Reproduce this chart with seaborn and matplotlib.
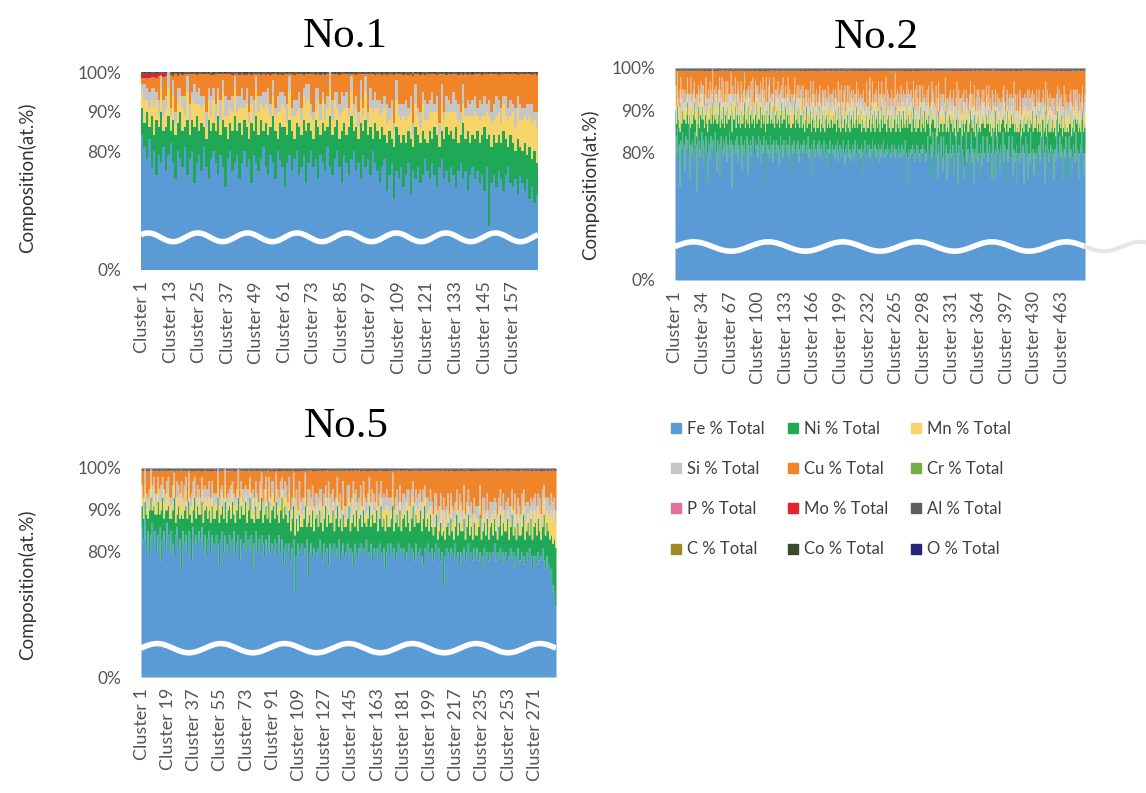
import numpy as np
import pandas as pd
import matplotlib
matplotlib.use("Agg")
import matplotlib.pyplot as plt
from matplotlib.lines import Line2D
import seaborn as sns

# ---------------- data (at.% per cluster) ----------------
ELEMENTS = ["Fe", "Ni", "Mn", "Si", "Cu", "Cr", "P", "Mo", "Al", "C", "Co", "O"]
COLORS = ["#5B9BD5", "#1FA855", "#F7D46A", "#C6C6C6", "#F08428", "#72AD4A",
          "#E2709C", "#E0262B", "#5E5E5E", "#9E8A22", "#3B4A2C", "#25267A"]
Y_TICKS = [0, 80, 90, 100]
Y_TICK_LABELS = ["0%", "80%", "90%", "100%"]
TITLES = ["No.1", "No.2", "No.5"]
TICK_STEPS = [12, 33, 18]

# ---- No.1 ----
FE_1 = """
84 81 78 83 76 80 74 79 77 81
75 79 82 77 73 80 78 76 81 74
78 80 72 77 79 75 81 76 73 78
80 77 74 79 76 71 78 80 75 77
79 73 77 80 76 78 72 79 77 75
78 81 76 74 79 77 73 80 78 76
71 77 79 75 78 80 74 76 79 72
77 80 76 78 73 79 77 75 81 76
74 78 80 76 72 79 77 74 78 80
75 77 73 79 76 78 74 80 77 75
72 76 78 70 74 77 68 75 73 76
71 74 77 69 75 73 76 72 74 78
75 73 77 74 71 76 78 73 75 72
76 74 71 75 77 73 75 70 74 76
73 75 72 74 70 76 61 72 74 71
75 73 70 74 76 72 71 73 69 74
72 70 73 68 71 67 69
"""
NI_1 = """
7 6 12 3 13 4 14 7 13 4
11 10 3 11 11 7 12 9 5 14
6 8 14 12 6 12 5 7 15 7
7 8 15 5 12 15 5 7 10 12
6 14 7 8 10 5 15 6 12 9
10 4 11 10 7 12 12 3 9 10
15 7 9 10 5 7 12 8 9 13
10 5 7 10 13 5 10 10 5 13
10 8 8 7 13 8 7 12 11 5
11 6 14 6 12 6 12 3 10 10
11 10 6 12 11 6 13 11 11 6
13 8 8 14 6 13 8 10 11 5
7 12 6 12 13 5 7 10 11 12
9 9 15 7 7 14 8 15 8 8
10 10 10 10 16 7 23 9 10 11
9 9 15 9 5 12 11 7 14 7
8 12 6 13 7 13 8
"""
MN_1 = ("4635475364 5746354637 4563746354 6354736457 5473645376 4657354736 "
        "5374635467 6453746357 4736547364 5364735746 6475364756 5647365475 "
        "6574637546 5746356475 7465375647 6576758687 8798989")
SI_1 = ("2434352434 3524342354 4253432435 3425354243 4352432534 2435342453 "
        "3542434325 4325342435 5243534243 3452435342 4235342534 3524352435 "
        "4352435243 2534352434 4253524345 3425342534 3243524")
MO_1 = ("9989798767 5432121101 0101001010 1001010010 0100101001 0010100101 "
        "0100100101 0010101001 0101001010 1001010010 0100101001 0010100101 "
        "0100100101 0010101001 0101001010 1001010010 0100101")
AL_1 = ("4353534354 3545354543 5354543535 4353534354 3545354543 5354543535 "
        "4353534354 3545354543 5354543535 4353534354 3545354543 5354543535 "
        "4353534354 3545354543 5354543535 4353534354 4353534")
CO_1 = ("1212112121 2112121211 1212112121 2112121211 1212112121 2112121211 "
        "1212112121 2112121211 1212112121 2112121211 1212112121 2112121211 "
        "1212112121 2112121211 1212112121 2112121211 1212112")
CR_1 = {14: 0.3, 52: 0.2, 88: 0.3, 131: 0.2}
P_1 = {3: 0.5, 6: 0.4, 9: 0.3, 21: 0.2, 77: 0.2}
C_1 = {30: 0.2, 115: 0.3}
O_1 = {45: 0.2, 140: 0.2}

# ---- No.2 ----
FE_2 = """
84 80 86 78 82 72 83 81 85 79
82 76 84 81 83 79 86 74 82 80
83 81 78 85 82 71 84 80 83 79
81 85 79 83 77 82 84 80 73 83
82 79 84 81 83 78 82 85 80 76
83 80 82 74 84 81 79 83 82 80
84 78 82 81 85 79 83 72 82 80
81 83 80 84 78 82 81 79 84 76
82 80 83 79 81 84 75 82 80 83
79 82 84 80 77 83 81 82 79 84
81 83 78 82 80 84 81 73 83 80
82 79 81 84 80 82 78 83 81 79
83 80 82 77 81 84 80 82 79 83
81 78 83 80 82 79 84 81 74 82
80 83 81 79 82 80 83 78 81 82
79 82 80 83 81 78 82 80 84 79
81 80 82 75 81 83 79 81 80 82
80 83 79 81 82 78 81 83 80 79
82 79 81 80 83 81 76 82 80 81
79 82 80 83 78 81 82 79 81 80
83 80 77 81 82 80 83 79 81 78
80 82 81 79 83 80 78 82 81 80
81 79 82 80 74 81 83 80 79 82
80 82 79 81 80 83 78 81 82 79
81 80 82 78 81 79 82 80 83 80
79 81 80 82 77 81 80 79 82 81
80 82 79 81 80 78 82 81 79 80
82 79 81 80 83 80 79 73 81 80
79 81 80 82 79 81 78 80 82 79
81 80 78 81 80 82 79 81 80 78
80 84 81 75 80 82 79 85 81 74
79 85 80 74 82 78 80 84 79 76
84 78 80 82 74 80 76 81 85 79
80 82 75 80 78 85 80 73 82 80
78 84 81 79 74 77 81 85 78 81
80 75 82 85 78 81 73 80 81 79
85 78 80 74 82 80 77 84 79 80
79 81 84 78 80 82 75 80 74 85
80 74 81 80 84 81 80 76 82 78
81 85 78 82 73 80 81 78 84 79
79 82 84 75 81 78 80 82 73 80
80 78 85 80 79 82 73 80 84 79
82 74 80 78 85 80 79 81 75 80
79 81 75 80 82 78 84 80 79 85
80 73 82 79 84 81 78 80 82 75
81 80 74 81 78 85 82 79 80 84
79 82 80 74 81 79 84 82 73 80
84 79 81 75 79 82 80 78 85 79
81 80 74 80 82 85 81 80 75 80
"""
NI_2 = """
6 7 5 10 4 13 9 6 5 9
6 12 3 8 9 8 3 12 8 7
4 8 14 3 6 13 3 11 3 10
9 3 12 5 9 7 8 7 12 5
6 12 3 8 9 9 7 3 10 11
4 9 10 12 4 9 8 8 4 9
6 9 9 7 3 10 9 13 8 8
7 8 6 5 14 5 8 7 6 11
5 9 9 7 7 6 12 9 6 6
11 5 7 8 9 6 11 5 11 4
7 8 8 7 12 3 8 12 7 7
5 10 11 3 8 8 9 8 5 10
7 7 9 11 5 5 12 5 11 5
7 13 3 9 10 8 5 5 12 5
7 6 11 7 6 10 4 13 5 7
10 4 10 4 4 10 9 6 5 8
6 10 3 13 10 3 9 4 9 4
6 5 12 4 5 11 5 7 5 9
7 7 9 7 3 7 12 4 9 6
8 8 5 5 13 5 6 6 8 6
3 8 14 4 5 9 3 11 4 10
9 4 9 8 3 8 13 4 8 7
6 11 3 8 12 5 5 5 10 4
6 6 12 4 7 6 8 9 3 9
8 6 8 9 4 9 9 6 6 7
8 9 5 6 12 5 8 6 7 5
6 6 12 4 7 11 4 9 6 8
7 7 9 7 3 8 12 13 8 7
8 9 5 6 12 5 10 5 7 7
5 8 13 4 7 7 7 9 5 10
8 3 8 11 4 5 11 3 7 12
7 4 4 12 8 7 7 3 9 9
3 9 10 3 12 8 9 8 3 8
8 3 13 6 6 3 10 12 6 6
8 4 3 8 14 8 6 3 10 4
5 12 8 3 8 7 12 9 3 8
3 7 9 12 3 7 12 3 9 6
7 8 3 9 10 3 12 4 12 3
5 12 9 4 3 7 5 12 3 9
7 3 11 4 12 7 9 7 4 7
7 7 3 12 9 7 7 3 13 5
5 9 3 4 7 6 12 9 3 8
6 11 9 8 3 7 11 4 12 6
7 8 10 7 8 7 3 4 9 3
5 13 8 5 3 7 7 9 3 11
7 5 12 5 6 3 8 6 8 3
7 7 4 12 9 6 3 3 13 5
3 8 9 9 7 6 5 11 3 8
7 5 13 6 3 3 9 5 12 6
"""
MN_2 = ("3243263423 2432433542 3423264324 4234324253 3342432344 2435342423 "
        "3243423624 4323242334 2434235342 3242342434 4323432542 2342324323 "
        "3423432342 2332423452 3243234234 4232432323 2344323432 3234234324 "
        "2423423432 3342324234 2432342323 4323243432 3242532343 2343243234 "
        "3234324323 2423232432 3242423234 2324232524 3232423243 2423234232 "
        "3242323423 2323423234 3242324232 2432323243 3223432324 2342232423 "
        "3224323242 2432232353 3223423232 2342232324 3223423242 2432324232 "
        "3224232342 2342232423 3232423224 2423232342 3242223423 2324232243 "
        "3232423224")
SI_2 = ("3242343234 2343242343 4232343242 3424232434 2343424323 "
        "3234243242 4323234342 2432342343 3243423234 4232342432 "
        "2343234243 3424323423 2342432343 3243243234 4323432342 "
        "3234242343 2432343234 3423234243 2343423432 3242343242 "
        "4323234343 2434323234 3243432342 3432343243 2343242434 "
        "3434323433 4343343234 3433434343 4343234334 3434343243 "
        "4333434343 3434334334 4343433343 3343434334 4334343433 "
        "3434334343 4343343334 3343434343 4334334343 3434343334 "
        "4343334343 3433434334 4343343433 3334343434 4343433343 "
        "3434334334 4333434343 3434343433 4343343334")
MO_2 = ("1010110101 0110101011 1011010110 1010110101 0110101011 1011010110 "
        "1010110101 0110101011 1011010110 1010110101 0110101011 1011010110 "
        "1010110101 0110101011 1011010110 1010110101 0110101011 1011010110 "
        "1010110101 0110101011 1011010110 1010110101 0110101011 1011010110 "
        "1010110101 0110101011 1011010110 1010110101 0110101011 1011010110 "
        "1010110101 0110101011 1011010110 1010110101 0110101011 1011010110 "
        "1010110101 0110101011 1011010110 1010110101 0110101011 1011010110 "
        "1010110101 0110101011 1011010110 1010110101 0110101011 1011010110 "
        "1010110101")
AL_2 = ("4534545354 5453454545 3545453454 4534545354 5453454545 3545453454 "
        "4534545354 5453454545 3545453454 4534545354 5453454545 3545453454 "
        "4534545354 5453454545 3545453454 4534545354 5453454545 3545453454 "
        "4534545354 5453454545 3545453454 4534545354 5453454545 3545453454 "
        "4534545354 5453454545 3545453454 4534545354 5453454545 3545453454 "
        "4534545354 5453454545 3545453454 4534545354 5453454545 3545453454 "
        "4534545354 5453454545 3545453454 4534545354 5453454545 3545453454 "
        "4534545354 5453454545 3545453454 4534545354 5453454545 3545453454 "
        "4534545354")
CO_2 = ("1212112121 2112121211 1212112121 2112121211 1212112121 2112121211 "
        "1212112121 2112121211 1212112121 2112121211 1212112121 2112121211 "
        "1212112121 2112121211 1212112121 2112121211 1212112121 2112121211 "
        "1212112121 2112121211 1212112121 2112121211 1212112121 2112121211 "
        "1212112121 2112121211 1212112121 2112121211 1212112121 2112121211 "
        "1212112121 2112121211 1212112121 2112121211 1212112121 2112121211 "
        "1212112121 2112121211 1212112121 2112121211 1212112121 2112121211 "
        "1212112121 2112121211 1212112121 2112121211 1212112121 2112121211 "
        "1212112121")
CR_2 = {40: 0.2, 122: 0.2, 260: 0.3, 401: 0.2}
P_2 = {17: 0.2, 95: 0.2, 310: 0.2}
C_2 = {70: 0.2, 205: 0.2, 380: 0.2, 455: 0.2}
O_2 = {150: 0.2, 333: 0.2, 470: 0.2}

# ---- No.5 ----
FE_5 = """
86 83 88 81 85 79 84 87 82 85
80 84 86 78 83 85 81 87 84 80
85 82 79 84 86 81 83 76 85 82
84 80 85 83 78 86 82 84 81 85
83 86 81 84 79 83 85 80 84 82
81 84 82 77 83 85 80 84 82 79
84 81 83 85 80 82 84 78 83 81
82 85 80 83 81 84 76 82 85 80
83 80 84 82 79 83 81 84 80 82
81 83 79 82 84 80 83 77 81 82
80 82 78 81 83 70 79 82 80 81
82 79 81 83 74 80 82 79 81 80
79 81 83 80 78 82 80 81 77 82
81 80 82 79 81 83 78 80 82 79
80 82 79 81 80 77 82 80 79 81
82 79 81 80 83 79 80 82 78 81
80 81 78 82 80 79 81 76 80 82
79 82 80 81 78 80 82 79 81 80
81 78 80 82 79 81 80 78 82 79
80 81 79 77 81 80 82 79 80 81
78 80 82 79 81 78 80 72 79 81
80 79 81 80 78 82 79 80 77 80
79 81 78 80 82 79 80 78 81 79
81 78 80 79 76 81 79 80 78 80
79 80 82 78 80 79 81 77 80 79
80 78 79 81 79 80 76 79 81 78
78 80 79 77 80 78 81 79 76 79
79 77 80 78 79 81 78 76 79 77
74 76 72 70 67
"""
NI_5 = """
5 5 4 8 3 11 9 3 9 4
9 8 3 12 10 3 9 3 7 8
3 8 14 3 3 10 5 13 3 8
7 8 7 6 9 4 11 4 10 4
6 6 6 6 12 5 5 7 7 6
7 6 11 10 6 6 8 8 5 11
7 7 9 4 7 8 9 10 8 8
7 7 7 7 12 4 12 5 6 8
5 10 9 5 10 8 7 8 7 8
10 5 13 7 3 10 10 11 10 7
7 8 7 7 8 14 9 3 9 5
4 9 10 3 13 9 4 11 4 8
10 5 7 7 7 6 11 5 12 5
6 10 3 9 10 3 10 5 7 7
6 6 12 4 7 12 4 10 6 7
7 7 9 7 3 9 11 4 11 6
7 9 7 6 11 7 7 9 9 4
7 6 11 4 9 9 4 11 4 8
8 8 10 5 6 7 11 8 7 8
7 9 6 11 10 6 6 6 9 5
6 6 7 4 4 9 4 13 4 5
7 5 7 5 5 4 10 4 10 5
6 7 5 6 7 5 6 5 6 5
3 8 9 4 9 6 5 8 5 6
8 4 6 7 3 7 8 7 7 6
5 10 4 5 10 4 10 4 6 6
6 6 10 6 5 9 3 9 7 7
8 7 8 7 4 5 11 8 8 8
9 8 10 13 14
"""
MN_5 = ("3243234243 2432342432 3243424532 4232432324 2343243423 3244232432 "
        "2432423243 3242325324 2423242343 3242432524 2432463243 3242524232 "
        "2324232352 3232423242 2423254232 3242324233 2323242524 3242323242 "
        "2324242323 3234232423 2423242532 3232423243 2423242324 3232523242 "
        "2423242432 3242325324 2434323254 3434354534 56676")
SI_5 = ("2342323432 3234232343 2423432324 3242343232 2343234243 3232423432 "
        "2423234323 3243242342 2342432324 3234243243 3423434343 4343343434 "
        "3434433434 4343343343 3434434343 4334343434 3443434343 4343343434 "
        "3434434343 4343343343 3434434343 4334343434 3443434343 4343343434 "
        "3434434343 4343343343 3434434343 4334343434 34433")
MO_5 = ("1010110101 0110101011 1011010110 1010110101 0110101011 1011010110 "
        "1010110101 0110101011 1011010110 1010110101 0110101011 1011010110 "
        "1010110101 0110101011 1011010110 1010110101 0110101011 1011010110 "
        "1010110101 0110101011 1011010110 1010110101 0110101011 1011010110 "
        "1010110101 0110101011 1011010110 1010110101 01101")
AL_5 = ("4534545354 5453454545 3545453454 4534545354 5453454545 3545453454 "
        "4534545354 5453454545 3545453454 4534545354 5453454545 3545453454 "
        "4534545354 5453454545 3545453454 4534545354 5453454545 3545453454 "
        "4534545354 5453454545 3545453454 4534545354 5453454545 3545453454 "
        "4534545354 5453454545 3545453454 4534545354 45345")
CO_5 = ("1212112121 2112121211 1212112121 2112121211 1212112121 2112121211 "
        "1212112121 2112121211 1212112121 2112121211 1212112121 2112121211 "
        "1212112121 2112121211 1212112121 2112121211 1212112121 2112121211 "
        "1212112121 2112121211 1212112121 2112121211 1212112121 2112121211 "
        "1212112121 2112121211 1212112121 2112121211 12121")
CR_5 = {33: 0.2, 150: 0.2, 240: 0.2}
P_5 = {8: 0.3, 61: 0.2, 199: 0.2}
C_5 = {90: 0.2, 222: 0.2}
O_5 = {120: 0.2, 268: 0.2}


# ---------------- helpers ----------------
def nums(s):
    return np.array([float(v) for v in s.split()])


def digits(s, scale=1.0):
    return np.array([int(ch) for ch in s if ch.isdigit()], float) * scale


def sparse(n, d):
    a = np.zeros(n)
    for k, v in d.items():
        a[k - 1] = v
    return a


def build_panel(fe, ni, mn, si, mo, al, co, cr, p, c, o):
    fe, ni = nums(fe), nums(ni)
    n = len(fe)
    comp = {"Fe": fe, "Ni": ni, "Mn": digits(mn), "Si": digits(si),
            "Mo": digits(mo, 0.1), "Al": digits(al, 0.1), "Co": digits(co, 0.1),
            "Cr": sparse(n, cr), "P": sparse(n, p), "C": sparse(n, c), "O": sparse(n, o)}
    lens = {k: len(v) for k, v in comp.items()}
    if len(set(lens.values())) != 1:
        raise ValueError(f"length mismatch: {lens}")
    others = sum(v for v in comp.values())
    comp["Cu"] = np.clip(100.0 - others, 0, None)   # balance to 100 at.%
    frames = [pd.DataFrame({"cluster": np.arange(1, n + 1), "element": el,
                            "value": comp[el]}) for el in ELEMENTS]
    return pd.concat(frames, ignore_index=True), n


PANELS = [
    build_panel(FE_1, NI_1, MN_1, SI_1, MO_1, AL_1, CO_1, CR_1, P_1, C_1, O_1),
    build_panel(FE_2, NI_2, MN_2, SI_2, MO_2, AL_2, CO_2, CR_2, P_2, C_2, O_2),
    build_panel(FE_5, NI_5, MN_5, SI_5, MO_5, AL_5, CO_5, CR_5, P_5, C_5, O_5),
]

# broken y axis: 60-100 % linear, 0-60 % compressed into the bottom band
BREAK = 60.0


def fwd(v):
    v = np.asarray(v, dtype=float)
    return np.where(v >= BREAK, v, 50.0 + v / 6.0)


def inv(t):
    t = np.asarray(t, dtype=float)
    return np.where(t >= BREAK, t, (t - 50.0) * 6.0)


# ---------------- figure ----------------
sns.set_style("white")
plt.rcParams["font.family"] = ["Lato", "DejaVu Sans"]

W, H = 1146, 793
fig = plt.figure(figsize=(W / 100, H / 100), dpi=100)


def px_axes(l, t, r, b):
    return fig.add_axes([l / W, 1 - b / H, (r - l) / W, (b - t) / H])


AX_BOXES = [(141, 72, 538, 270), (675, 68, 1085, 280), (141, 468, 556, 677)]
TITLE_POS = [(345, 37), (876, 38), (346, 427)]
YLABEL_POS = [(27, 178), (590, 185), (27, 585)]
WAVES = [(0.165, 8.0, 0.66), (0.158, 5.5, 0.0), (0.138, 6.5, 0.0)]

palette = dict(zip(ELEMENTS, COLORS))
tick_color = "#555555"

for i, ((df, n), box) in enumerate(zip(PANELS, AX_BOXES)):
    ax = px_axes(*box)
    sns.histplot(data=df, x="cluster", weights="value", hue="element",
                 hue_order=ELEMENTS[::-1], palette=palette, multiple="stack",
                 discrete=True, element="step", fill=True, alpha=1,
                 linewidth=0, antialiased=False, legend=False, ax=ax)
    ax.set_yscale("function", functions=(fwd, inv))
    ax.set_ylim(0, 100)
    ax.set_xlim(0.5, n + 0.5)
    ax.set_yticks(Y_TICKS, Y_TICK_LABELS)
    ticks = np.arange(1, n + 1, TICK_STEPS[i])
    ax.set_xticks(ticks, [f"Cluster {t}" for t in ticks], rotation=90)
    ax.set_xlabel("")
    ax.set_ylabel("")
    ax.grid(False)
    sns.despine(ax=ax, left=True, bottom=True)
    ax.tick_params(axis="y", length=0, pad=14, labelsize=12.5, labelcolor=tick_color)
    ax.tick_params(axis="x", length=0, pad=8, labelsize=13, labelcolor=tick_color)

    # axis-break wave
    yf, cyc, ph = WAVES[i]
    xs = np.linspace(0, 1, 800)
    ax.plot(xs, yf + 0.022 * np.sin(2 * np.pi * cyc * xs + ph), transform=ax.transAxes,
            color="white", lw=4, zorder=5, solid_capstyle="butt")
    if i == 1:
        xe = np.linspace(1.0, 1.16, 120)
        ax.plot(xe, yf + 0.022 * np.sin(2 * np.pi * cyc * xe + ph), transform=ax.transAxes,
                color="#e6e6e6", lw=3, zorder=5, clip_on=False)

    tx, ty = TITLE_POS[i]
    fig.text(tx / W, 1 - ty / H, TITLES[i], family="Liberation Serif", size=31,
             ha="center", va="center", color="black")
    lx, ly = YLABEL_POS[i]
    fig.text(lx / W, 1 - ly / H, "Composition(at.%)", rotation=90, size=13.5,
             ha="center", va="center", color="#333333")

# legend, filled row-wise like the original (3 columns x 4 rows)
order = np.array(ELEMENTS).reshape(4, 3).T.flatten()
handles = [Line2D([0], [0], marker="s", linestyle="none", markersize=6.5,
                  markerfacecolor=palette[e], markeredgecolor=palette[e]) for e in order]
labels = [f"{e} % Total" for e in order]
fig.legend(handles, labels, ncol=3, loc="upper left",
           bbox_to_anchor=(671 / W, 1 - 421 / H), frameon=False, fontsize=12,
           handlelength=0.6, handletextpad=0.35, columnspacing=1.4,
           labelspacing=1.45, borderpad=0, borderaxespad=0, labelcolor="#404040")

fig.savefig("out.png", dpi=100)
